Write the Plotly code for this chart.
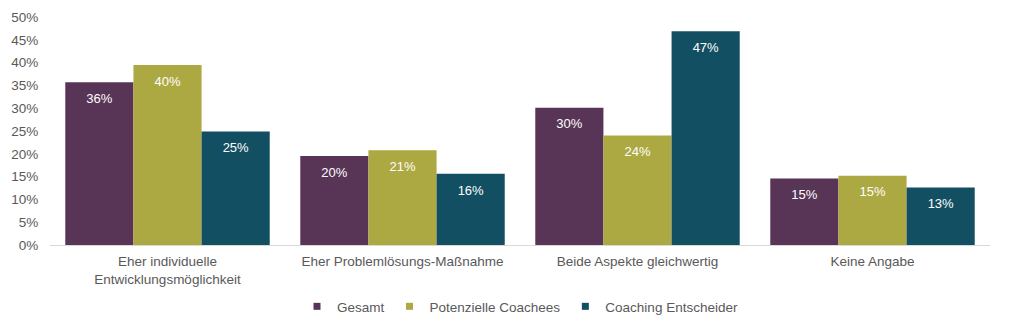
import plotly.graph_objects as go

categories = ["Eher individuelle<br>Entwicklungsmöglichkeit", "Eher Problemlösungs-Maßnahme",
              "Beide Aspekte gleichwertig", "Keine Angabe"]
gesamt = [35.7, 19.5, 30.1, 14.6]
potenzielle = [39.5, 20.8, 24.0, 15.2]
entscheider = [24.9, 15.6, 46.9, 12.6]
series_names = ["Gesamt", "Potenzielle Coachees", "Coaching Entscheider"]
colors = ["#583556", "#ADA942", "#134F62"]
y_ticks = [0, 5, 10, 15, 20, 25, 30, 35, 40, 45, 50]
y_ticktext = [f"{t}%" for t in y_ticks]

FONT = "Liberation Sans, Arial"
fig = go.Figure()
for i, (name, vals, col) in enumerate(zip(series_names, [gesamt, potenzielle, entscheider], colors)):
    fig.add_trace(go.Bar(
        name=name, x=categories, y=vals, offsetgroup=str(i),
        marker=dict(color=col, line=dict(width=0)), showlegend=False, hoverinfo="skip",
    ))
for i, (name, vals, col) in enumerate(zip(series_names, [gesamt, potenzielle, entscheider], colors)):
    fig.add_trace(go.Scatter(
        name=name, x=categories, y=vals, offsetgroup=str(i), mode="markers+text",
        marker=dict(size=16, color="rgba(0,0,0,0)"),
        text=[f"{round(v):.0f}%" for v in vals], textposition="bottom center",
        textfont=dict(color="white", size=13, family=FONT), showlegend=False, hoverinfo="skip",
    ))
# legend entries
for name, col in zip(series_names, colors):
    fig.add_trace(go.Scatter(
        name=name, x=[None], y=[None], mode="markers",
        marker=dict(symbol="square", size=7, color=col), showlegend=True,
    ))

fig.update_layout(
    width=1024, height=328, barmode="group", bargap=0.13, bargroupgap=0,
    scattermode="group", scattergap=0.13,
    margin=dict(l=50, r=34, t=17, b=83, autoexpand=False),
    plot_bgcolor="white", paper_bgcolor="white",
    font=dict(family=FONT, size=13.5, color="#595959"),
    legend=dict(orientation="h", x=0.5, xanchor="center", y=-0.27, yanchor="middle",
                font=dict(size=13.5, color="#595959"), itemwidth=30, traceorder="normal"),
    xaxis=dict(showline=True, linecolor="#D9D9D9", linewidth=1, ticks="outside", ticklen=4,
               tickcolor="rgba(0,0,0,0)", showgrid=False, tickfont=dict(size=13.5),
               automargin=False),
    yaxis=dict(range=[0, 50], tickvals=y_ticks, ticktext=y_ticktext, showgrid=False,
               zeroline=False, showline=False, ticks="outside", ticklen=8,
               tickcolor="rgba(0,0,0,0)", tickfont=dict(size=13.5), automargin=False),
)
fig.write_html("out.html")
